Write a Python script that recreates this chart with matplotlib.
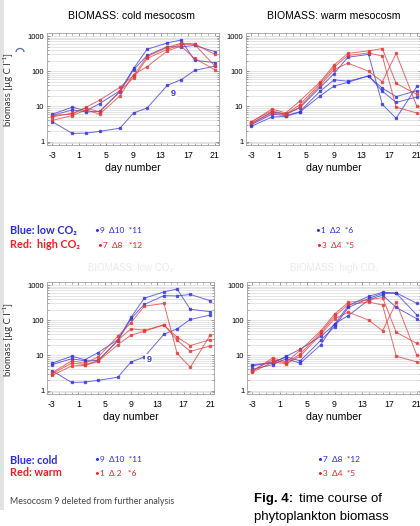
import matplotlib
matplotlib.use("Agg")
import matplotlib.pyplot as plt
from matplotlib.ticker import FixedLocator, NullFormatter, LogLocator
from matplotlib.patches import Rectangle, Arc

W, H = 420, 526

days = [-3, 0, 2, 4, 7, 9, 11, 14, 16, 18, 21]
xticks = [-3, 1, 5, 9, 13, 17, 21]
yticks = [1, 10, 100, 1000]
ytick_labels = ["1", "10", "100", "1000"]

# cold, low CO2 (mesocosms 9, 10, 11)
m9 = [3.7, 1.7, 1.75, 1.95, 2.4, 6.5, 9, 40, 57, 105, 140]
m10 = [6.0, 9.5, 7.5, 12, 28, 120, 420, 640, 770, 205, 175]
m11 = [5.5, 8, 7, 7.2, 26, 110, 280, 500, 490, 540, 360]
# cold, high CO2 (mesocosms 7, 8, 12)
m7 = [5.5, 6, 9.5, 15, 35, 75, 260, 480, 620, 600, 300]
m8 = [5.0, 6.5, 9, 7, 27, 65, 230, 420, 580, 580, 140]
m12 = [4.0, 5.5, 8, 6, 20, 80, 135, 380, 520, 230, 110]
# warm, low CO2 (mesocosms 1, 2, 6)
m1 = [2.7, 5, 5.2, 6.8, 20, 38, 48, 75, 27, 13, 18.5]
m2 = [3.0, 6, 5.5, 7, 27, 57, 52, 72, 33, 19, 28]
m6 = [3.2, 7, 6, 9, 35, 85, 250, 300, 11.4, 4.6, 37]
# warm, high CO2 (mesocosms 3, 4, 5)
m3 = [3.5, 8.5, 6.5, 14, 50, 150, 320, 380, 440, 45, 22]
m4 = [3.7, 7.5, 6.0, 11, 45, 130, 280, 330, 270, 9.5, 6.5]
m5 = [3.3, 6.5, 5.8, 9.5, 40, 110, 170, 100, 50, 320, 10]

BLUE = "#3838d8"
RED = "#e23a3a"

fig = plt.figure(figsize=(W / 100, H / 100), dpi=100)
fig.patch.set_facecolor("white")

# light gray left border strip
fig.add_artist(Rectangle((0, 1 - 510 / H), 4 / W, 510 / H, transform=fig.transFigure,
                         facecolor="#e2e2e2", edgecolor="none"))
# small arc glyph near the top y label
fig.add_artist(Arc((20 / W, 1 - 52 / H), 8 / W, 7 / H, theta1=0, theta2=180,
                   transform=fig.transFigure, color="#5a6e9a", lw=0.9))


def ax_at(l, t, r, b):
    return fig.add_axes([l / W, 1 - b / H, (r - l) / W, (b - t) / H])


def style(ax):
    ax.set_yscale("log")
    ax.set_ylim(0.8, 1220)
    ax.set_xlim(-3.75, 21.6)
    ax.set_xticks(xticks)
    ax.set_xticklabels([str(t) for t in xticks], fontsize=6.3, family="Liberation Sans")
    ax.xaxis.set_minor_locator(FixedLocator(list(range(-3, 22))))
    ax.set_yticks(yticks)
    ax.set_yticklabels(ytick_labels, fontsize=5.5, family="Liberation Sans")
    ax.yaxis.set_minor_locator(LogLocator(base=10, subs=range(2, 10)))
    ax.yaxis.set_minor_formatter(NullFormatter())
    ax.tick_params(which="both", direction="in", top=True, right=True, color="#888888",
                   pad=2)
    ax.tick_params(axis="x", which="major", pad=4)
    ax.tick_params(which="major", length=2.5, width=0.6)
    ax.tick_params(which="minor", length=1.3, width=0.5)
    ax.grid(True, which="both", axis="y", color="#d9d9d9", lw=0.5)
    ax.set_axisbelow(True)
    for s in ax.spines.values():
        s.set_color("#a0a0a0")
        s.set_linewidth(0.6)
    ax.set_xlabel("day number", fontsize=7.6, family="Liberation Sans", labelpad=2.5)


def draw(ax, series, color):
    for s in series:
        ax.plot(days, s, color=color, lw=0.7, alpha=0.75, marker="s", ms=1.6,
                mec=color, mfc=color)


ax1 = ax_at(47, 33, 219, 145)
style(ax1)
draw(ax1, [m9, m10, m11], BLUE)
draw(ax1, [m7, m8, m12], RED)
ax1.text(14.9, 24, "9", color=BLUE, fontsize=6.5, ha="center", va="center",
         family="Liberation Sans", fontweight="bold",
         bbox=dict(boxstyle="square,pad=0.15", fc="white", ec="none"))

ax2 = ax_at(246, 33, 421, 145)
style(ax2)
draw(ax2, [m1, m2, m6], BLUE)
draw(ax2, [m3, m4, m5], RED)

ax3 = ax_at(47, 282, 214, 394)
style(ax3)
draw(ax3, [m9, m10, m11], BLUE)
draw(ax3, [m1, m2, m6], RED)
ax3.text(11.7, 7.7, "9", color=BLUE, fontsize=6.5, ha="center", va="center",
         family="Liberation Sans", fontweight="bold",
         bbox=dict(boxstyle="square,pad=0.15", fc="white", ec="none"))

ax4 = ax_at(247, 282, 421, 394)
style(ax4)
draw(ax4, [m7, m8, m12], BLUE)
draw(ax4, [m3, m4, m5], RED)


def ftext(x, y, s, **kw):
    fig.text(x / W, 1 - y / H, s, **kw)


ftext(132, 16, "BIOMASS: cold mesocosm", fontsize=7.6, ha="center", va="center",
      family="Liberation Sans")
ftext(334, 16, "BIOMASS: warm mesocosm", fontsize=7.6, ha="center", va="center",
      family="Liberation Sans")
ftext(131, 268, "BIOMASS: low CO\u2082", fontsize=7, ha="center", va="center",
      family=["Liberation Sans", "DejaVu Sans"], color="#ebebeb")
ftext(334, 268, "BIOMASS: high CO\u2082", fontsize=7, ha="center", va="center",
      family=["Liberation Sans", "DejaVu Sans"], color="#ebebeb")

LBL = ["Lato", "DejaVu Sans"]
for yc in (90, 340):
    ftext(8, yc, "biomass [\u00b5g C l\u207b\u00b9]", fontsize=6.8, rotation=90,
          ha="center", va="center", family=LBL, color="#333333")

LB = "#2a2ae0"
LR = "#ee2020"
ftext(10, 231, "Blue: low CO\u2082", fontsize=7.8, fontweight="bold", color=LB,
      va="center", family=LBL)
ftext(10, 245, "Red:  high CO\u2082", fontsize=7.8, fontweight="bold", color=LR,
      va="center", family=LBL)
ftext(95, 231, "\u20229  \u039410  *11", fontsize=6, color=LB, va="center", family=LBL)
ftext(98, 245, "\u20227  \u03948   *12", fontsize=6, color=LR, va="center", family=LBL)
ftext(316, 231, "\u20221  \u03942  *6", fontsize=6, color=LB, va="center", family=LBL)
ftext(317, 245, "\u20223  \u03944  *5", fontsize=6, color=LR, va="center", family=LBL)

ftext(10, 460, "Blue: cold", fontsize=7.8, fontweight="bold", color=LB,
      va="center", family=LBL)
ftext(10, 473, "Red: warm", fontsize=7.8, fontweight="bold", color=LR,
      va="center", family=LBL)
ftext(95, 460, "\u20229  \u039410  *11", fontsize=6, color=LB, va="center", family=LBL)
ftext(95, 473, "\u20221  \u0394 2   *6", fontsize=6, color=LR, va="center", family=LBL)
ftext(318, 460, "\u20227  \u03948  *12", fontsize=6, color=LB, va="center", family=LBL)
ftext(318, 473, "\u20223  \u03944  *5", fontsize=6, color=LR, va="center", family=LBL)

ftext(10, 502, "Mesocosm 9 deleted from further analysis", fontsize=6.4,
      color="#444444", va="center", family=LBL)

ftext(254, 499, "Fig. 4:", fontsize=9.5, fontweight="bold", va="center",
      family="Liberation Sans")
ftext(299, 499, "time course of", fontsize=9.5, va="center", family="Liberation Sans")
ftext(254, 517, "phytoplankton biomass", fontsize=9.5, va="center",
      family="Liberation Sans")

fig.savefig("out.png", dpi=100, facecolor="white")
